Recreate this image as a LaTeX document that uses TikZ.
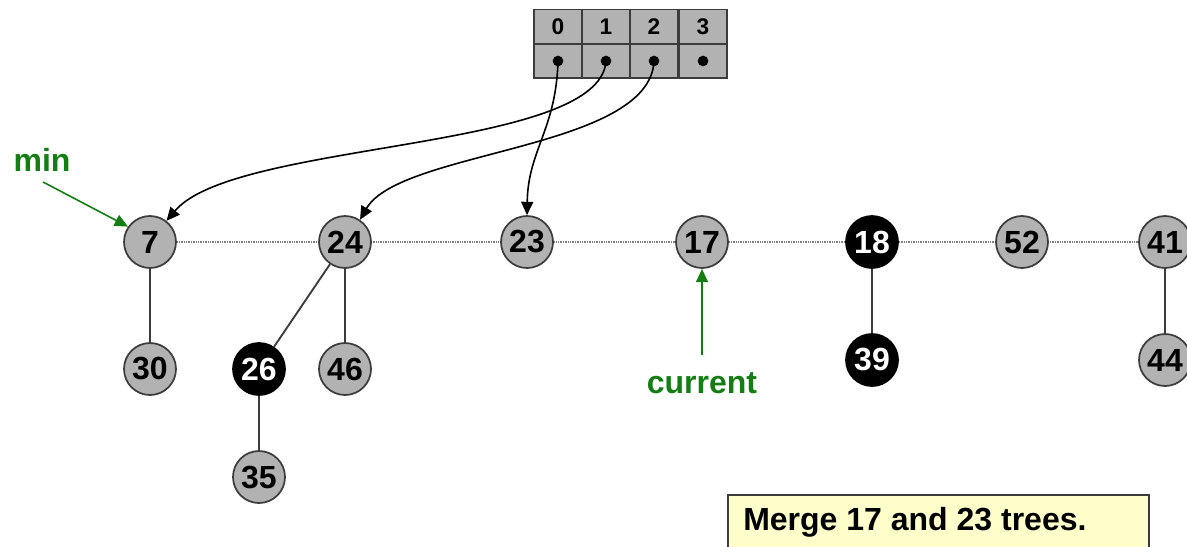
\documentclass[tikz,border=0pt]{standalone}
\usepackage{fontspec}
\setmainfont{Liberation Sans}
\usetikzlibrary{arrows.meta}
\definecolor{nodegray}{RGB}{178,178,178}
\definecolor{rimgray}{RGB}{60,60,60}
\definecolor{lblgreen}{RGB}{20,125,20}
\definecolor{notefill}{RGB}{255,255,204}
\tikzset{
  heapnode/.style={circle, draw=rimgray, line width=1.3pt, fill=nodegray,
    minimum size=39pt, inner sep=0pt, font=\fontsize{24}{24}\selectfont\bfseries},
  marked/.style={heapnode, fill=black, draw=black, text=white},
  treeedge/.style={draw=rimgray, line width=1.4pt},
  rootlink/.style={draw=gray, line width=1.2pt, dash pattern=on 1pt off 0.8pt},
  cell/.style={draw=rimgray, line width=1.3pt, fill=nodegray, minimum width=36pt,
    minimum height=25.5pt, inner sep=0pt, font=\fontsize{17}{17}\selectfont\bfseries},
  ptr/.style={-{Triangle[length=10pt,width=9pt]}, line width=1.2pt, black},
  greenarrow/.style={-{Triangle[length=10pt,width=9pt]}, line width=1.2pt, lblgreen},
  greenlabel/.style={text=lblgreen, font=\fontsize{24}{24}\selectfont\bfseries, inner sep=0pt},
  note/.style={draw=rimgray, line width=1.3pt, fill=notefill, anchor=north west,
    minimum width=315.75pt, minimum height=60pt, inner sep=0pt}
}
\begin{document}
\begin{tikzpicture}[x=0.75pt, y=-0.75pt]
\useasboundingbox (0,0) rectangle (1187,546);
\clip (0,0) rectangle (1187,546);

% root list links (behind the nodes)
\coordinate (lstart) at (150,242);
\coordinate (lend) at (1165,242);
\draw[rootlink] (lstart) -- (lend);

% note box
\node[note] (msg) at (727,494) {};
\node[anchor=west, font=\fontsize{24}{24}\selectfont\bfseries, inner sep=0pt] (msgtext) at (743,522) {Merge 17 and 23 trees.};

% root list
\node[heapnode] (n7)  at (150,242) {7};
\node[heapnode] (n24) at (345,242) {24};
\node[heapnode] (n23) at (527,242) {23};
\node[heapnode] (n17) at (702,242) {17};
\node[marked]   (n18) at (872,242) {18};
\node[heapnode] (n52) at (1022,242) {52};
\node[heapnode] (n41) at (1165,242) {41};

% children
\node[heapnode] (n30) at (150,369) {30};
\node[marked]   (n26) at (259,369) {26};
\node[heapnode] (n46) at (345,369) {46};
\node[heapnode] (n35) at (259,477) {35};
\node[marked]   (n39) at (872,360) {39};
\node[heapnode] (n44) at (1165,360) {44};

\draw[treeedge] (n7) -- (n30);
\draw[treeedge] (n24) -- (n26);
\draw[treeedge] (n24) -- (n46);
\draw[treeedge] (n26) -- (n35);
\draw[treeedge] (n18) -- (n39);
\draw[treeedge] (n41) -- (n44);

% degree array
\foreach \i/\x in {0/558,1/606,2/654,3/703}{
  \node[cell] (h\i) at (\x,26.5) {\i};
  \node[cell] (p\i) at (\x,61) {};
  \fill (p\i.center) circle (4pt);
}

% pointers from the array
\draw[ptr] (p0.center) .. controls (556,130) and (528,150) .. (n23.north);
\draw[ptr] (p1.center) .. controls (600,152) and (235,140) .. (n7.52);
\draw[ptr] (p2.center) .. controls (650,150) and (400,150) .. (n24.56);

% labels
\node[greenlabel] (minlbl) at (42,160) {min};
\coordinate (mintail) at (43,182);
\draw[greenarrow] (mintail) -- (n7.145);

\node[greenlabel] (curlbl) at (702,383) {current};
\coordinate (curtail) at (702,355);
\draw[greenarrow] (curtail) -- (n17.south);
\end{tikzpicture}
\end{document}
